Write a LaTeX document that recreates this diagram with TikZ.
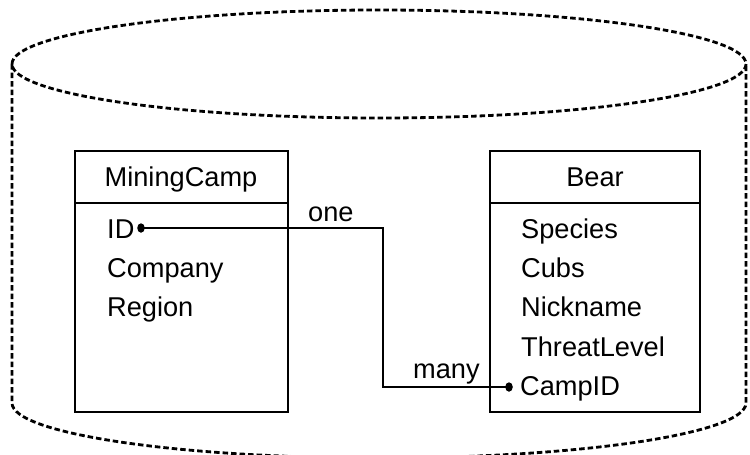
\documentclass[tikz,border=0pt]{standalone}
\usepackage{fontspec}
\setmainfont{Liberation Sans}
\usetikzlibrary{shapes.geometric}
\begin{document}
\begin{tikzpicture}[x=1pt,y=-1pt,
  dbshape/.style={line width=2.8pt,dash pattern=on 5.5pt off 3pt},
  tablebox/.style={draw,line width=1.8pt},
  txt/.style={inner sep=0pt,font=\fontsize{27.2}{30}\selectfont},
  field/.style={txt,anchor=base west},
  title/.style={txt,anchor=base},
  lbl/.style={txt,anchor=base west},
  link/.style={line width=1.4pt},
  keydot/.style={ellipse,fill=black,inner sep=0pt,minimum width=7.5pt,minimum height=9.5pt}]
\useasboundingbox (0,0) rectangle (750,455);

% database cylinder
\draw[dbshape] (379,64) ellipse [x radius=367, y radius=54];
\draw[dbshape] (12,64) -- (12,403)
  arc[start angle=180,end angle=0,x radius=367,y radius=55] -- (746,64);

% MiningCamp table
\draw[tablebox] (75,151) rectangle (288,412);
\draw[tablebox] (75,203) -- (288,203);
\node[title] (mctitle) at (181,186.5) {MiningCamp};
\node[field] (mcid) at (107,238.5) {ID};
\node[field] (mccompany) at (107,277.5) {Company};
\node[field] (mcregion) at (107,316.5) {Region};

% Bear table
\draw[tablebox] (490,151) rectangle (700,412);
\draw[tablebox] (490,203) -- (700,203);
\node[title] (beartitle) at (595,186.5) {Bear};
\node[field] (bspecies) at (521,238.5) {Species};
\node[field] (bcubs) at (521,277.5) {Cubs};
\node[field] (bnick) at (521,316.5) {Nickname};
\node[field] (bthreat) at (521,356) {ThreatLevel};
\node[field] (bcamp) at (520,395.5) {CampID};

% relationship
\node[keydot] (iddot) at (141,228) {};
\node[keydot] (campdot) at (509,387) {};
\coordinate (bend) at (383,228);
\draw[link] (iddot.center) -- (bend) |- (campdot.center);
\node[lbl] (one) at (308,221) {one};
\node[lbl] (many) at (413,378) {many};
\end{tikzpicture}
\end{document}
